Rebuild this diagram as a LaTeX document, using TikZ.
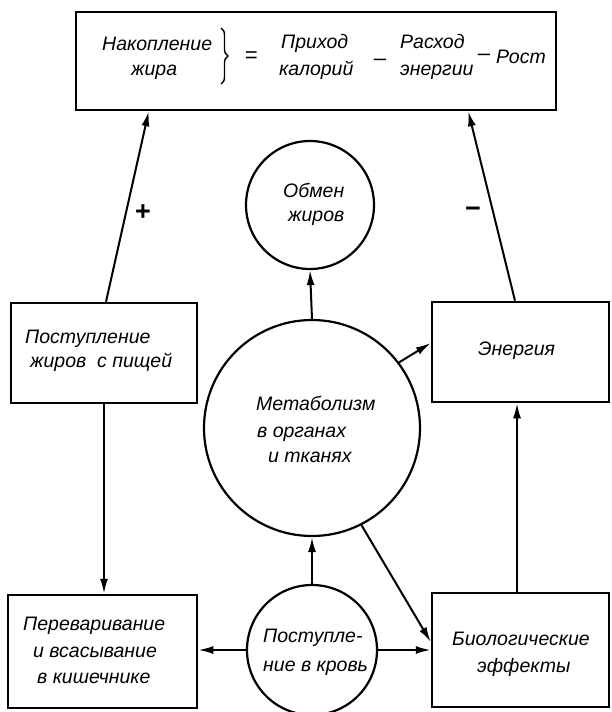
\documentclass[tikz,border=0pt]{standalone}
\usepackage{fontspec}
\setmainfont{Liberation Sans}
\usetikzlibrary{arrows.meta,decorations.pathreplacing,calc}
\begin{document}
\begin{tikzpicture}[x=1pt,y=-1pt,
  box/.style={draw, line width=2.5pt, rectangle, inner sep=0pt},
  circ/.style={draw, line width=2.2pt, circle, inner sep=0pt},
  txt/.style={anchor=base west, inner sep=0pt, font=\fontsize{19.5}{22}\selectfont\itshape},
  ttxt/.style={anchor=base west, inner sep=0pt, font=\fontsize{19.5}{22}\selectfont\itshape},
  ctxt/.style={anchor=center, inner sep=0pt, font=\fontsize{22}{24}\selectfont\itshape},
  arr/.style={line width=2pt, -{Latex[length=15pt,width=8pt]}},
  sign/.style={inner sep=0pt, font=\fontsize{27}{29}\selectfont\bfseries}]
\useasboundingbox (0,0) rectangle (612,712);
\fill[white] (0,0) rectangle (612,712);

% boxes
\node[box, minimum width=480pt, minimum height=98pt] (top) at (316,61) {};
\node[box, minimum width=186pt, minimum height=100pt] (lb) at (104,353) {};
\node[box, minimum width=177pt, minimum height=100pt] (rb) at (520.5,352) {};
\node[box, minimum width=189pt, minimum height=113pt] (blb) at (102.5,651.5) {};
\node[box, minimum width=177pt, minimum height=114pt] (brb) at (520.5,650) {};

% circles
\node[circ, minimum size=128pt] (ob) at (310,205) {};
\node[circ, minimum size=216pt] (big) at (312,428) {};
\node[circ, minimum size=130pt] (sm) at (312,650) {};

% connectors
\draw[arr] ([xshift=2pt]lb.north) -- ([xshift=74pt]top.south west);
\draw[arr] ([xshift=-5.5pt]rb.north) -- ([xshift=-89pt]top.south east);
\draw[arr] (big.north) -- (ob.south);
\draw[arr] (big.37) -- ([yshift=9pt]rb.west);
\draw[arr] (big.-63) -- ([yshift=8pt]brb.west);
\draw[arr] (sm.north) -- (big.south);
\draw[arr] (sm.west) -- (sm.west -| blb.east);
\draw[arr] (sm.east) -- (sm.east -| brb.west);
\draw[arr] (lb.south) -- (lb.south |- blb.north);
\draw[arr] ([xshift=-3.5pt]brb.north) -- ([xshift=-3.5pt]rb.south);

% signs
\node[sign] (plus) at (143,213) {+};
\node[sign] (minus) at (473,212) {−};

% top box text
\node[ttxt] (t1) at (102,50) {Накопление};
\node[ttxt] (t2) at (131,75) {жира};
\draw[line width=1.4pt, decorate, decoration={brace, amplitude=7pt}] (221,28) -- (221,84);
\node[ctxt] (eq) at (251,57) {=};
\node[ttxt] (t3) at (281,48) {Приход};
\node[ttxt] (t4) at (279,75) {калорий};
\node[ctxt] (m1) at (380,62) {–};
\node[ttxt] (t5) at (400,48) {Расход};
\node[ttxt] (t6) at (400,75) {энергии};
\node[ctxt] (m2) at (484,57) {–};
\node[ttxt] (t7) at (496,63) {Рост};

% left middle box
\node[txt] (l1) at (25,343) {Поступление};
\node[txt] (l2) at (30,367) {жиров\ \ с пищей};

% right middle box
\node[txt] (r1) at (478,355) {Энергия};

% big circle
\node[txt] (c1) at (256,410) {Метаболизм};
\node[txt] (c2) at (257,437) {в органах};
\node[txt] (c3) at (268,462) {и тканях};

% obmen circle
\node[txt] (o1) at (283,197) {Обмен};
\node[txt] (o2) at (288,221) {жиров};

% bottom left box
\node[txt] (b1) at (23,630) {Переваривание};
\node[txt] (b2) at (33,657) {и всасывание};
\node[txt] (b3) at (37,683) {в кишечнике};

% bottom right box
\node[txt] (e1) at (452,645) {Биологические};
\node[txt] (e2) at (477,672) {эффекты};

% small circle
\node[txt] (s1) at (263,642) {Поступле-};
\node[txt] (s2) at (263,671) {ние в кровь};
\end{tikzpicture}
\end{document}
